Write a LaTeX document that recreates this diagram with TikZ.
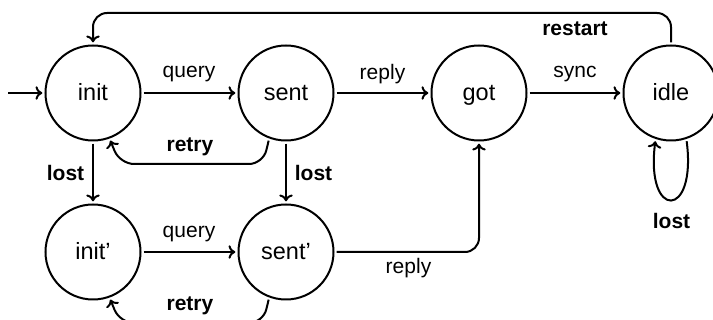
\documentclass[tikz,border=0pt]{standalone}
\usepackage{fontspec}
\setmainfont{Liberation Sans}
\usetikzlibrary{arrows.meta}
\begin{document}
\begin{tikzpicture}[x=0.5pt,y=-0.5pt,
  line width=1pt,
  state/.style={circle,draw,minimum size=47.5pt,inner sep=0pt,outer sep=1.6pt,
    text height=0.72em,text depth=0pt,
    font=\fontsize{11.75}{14}\selectfont},
  lbl/.style={inner sep=0pt,font=\fontsize{10.5}{12}\selectfont},
  blbl/.style={lbl,font=\fontsize{10.5}{12}\selectfont\bfseries},
  arr/.style={-{To[length=3.4pt,width=6.8pt]}},
]
\useasboundingbox (0,0) rectangle (713,320);

% states
\node[state] (init)  at (93,93)   {init};
\node[state] (sent)  at (286,93)  {sent};
\node[state] (got)   at (479,93)  {got};
\node[state] (idle)  at (671,93)  {idle};
\node[state] (initp) at (93,252)  {init'};
\node[state] (sentp) at (286,252) {sent'};

% start marker
\coordinate (start) at (8,93);
\draw[arr] (start) -- (init);

% transitions of the upper row
\draw[arr] (init) -- (sent);
\draw[arr] (sent) -- (got);
\draw[arr] (got) -- (idle);
\draw[arr,rounded corners=7pt] (sent.250) -- (263,164) -- (120,164) -- (init.290);
\draw[arr] (init) -- (initp);
\draw[arr] (sent) -- (sentp);
\draw[arr,rounded corners=7pt] (idle.north) -- (idle.north |- 0,13) -- (init.north |- 0,13) -- (init.north);
\draw[arr] (idle.288) .. controls (697,220) and (645,220) .. (idle.252);

% transitions of the lower row
\draw[arr] (initp) -- (sentp);
\draw[arr,rounded corners=7pt] (sentp.east) -| (got.south);
\draw[arr,rounded corners=7pt] (sentp.250) -- (263,323) -- (120,323) -- (initp.290);

% labels
\node[lbl]  (lq1)  at (189,74.5)  {query};
\node[lbl]  (lr1)  at (382.5,74.5) {reply};
\node[lbl]  (ls)   at (575,74.5)  {sync};
\node[blbl] (lre)  at (575,29)    {restart};
\node[blbl] (lrt1) at (190,146.5) {retry};
\node[blbl] (ll1)  at (65.5,173)  {lost};
\node[blbl] (ll2)  at (313.5,173) {lost};
\node[blbl] (ll3)  at (671.5,220.5) {lost};
\node[lbl]  (lq2)  at (189,234.5) {query};
\node[lbl]  (lr2)  at (408.5,268.5) {reply};
\node[blbl] (lrt2) at (190,305.5) {retry};
\end{tikzpicture}
\end{document}
